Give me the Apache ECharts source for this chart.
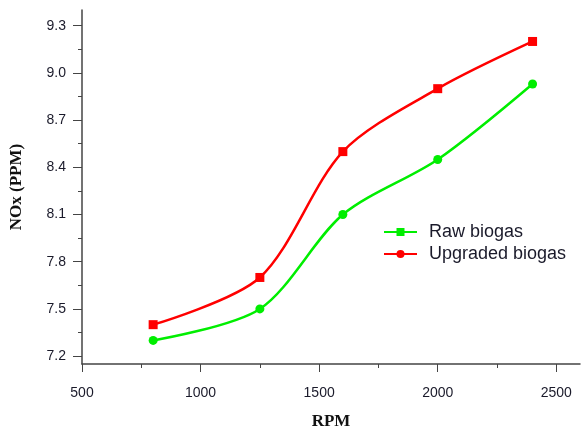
<!DOCTYPE html>
<html>
<head>
<meta charset="utf-8">
<script src="https://cdn.jsdelivr.net/npm/echarts@6/dist/echarts.min.js"></script>
<style>
    html, body { margin: 0; padding: 0; background: #fff; }
    #chart { width: 583px; height: 432px; }
</style>
</head>
<body>
<div id="chart"></div>
<script>
// 数据
var rpm = [800, 1250, 1600, 2000, 2400];
var rawBiogas = [7.3, 7.5, 8.1, 8.45, 8.93];
var upgradedBiogas = [7.4, 7.7, 8.5, 8.9, 9.2];
var yTicks = [7.2, 7.5, 7.8, 8.1, 8.4, 8.7, 9.0, 9.3];
var yMinorTicks = [7.35, 7.65, 7.95, 8.25, 8.55, 8.85, 9.15];
var xTicks = [500, 1000, 1500, 2000, 2500];
var xMinorTicks = [750, 1250, 1750, 2250];

// 组装点数据, 每个点自己的形状 (图例里用系列的形状)
function makePoints (ys, shape) {
    return rpm.map(function (x, i) {
        return { value: [x, ys[i]], symbol: shape };
    });
}

var axisColor = '#444';
var labelStyle = {
    color: '#1a1a2a',
    fontFamily: 'Liberation Sans, Arial',
    fontSize: 14
};
var titleStyle = {
    color: '#111',
    fontFamily: 'Liberation Serif, Times New Roman',
    fontWeight: 'bold',
    fontSize: 17
};

// 次刻度轴: 只画短刻度
function minorAxis (min, max, ticks) {
    return {
        type: 'value', min: min, max: max,
        axisLine: { show: false }, splitLine: { show: false },
        axisLabel: { show: false },
        axisTick: { show: true, customValues: ticks, length: 4, lineStyle: { color: axisColor } }
    };
}

function initChart () {
    var chart = echarts.init(document.getElementById('chart'));
    var xMinor = minorAxis(500, 2600, xMinorTicks);
    xMinor.position = 'bottom';
    var yMinor = minorAxis(7.15, 9.4, yMinorTicks);
    yMinor.position = 'left';
    var option = {
        animation: false,
        backgroundColor: '#fff',
        grid: {
            left: 82,
            right: 3,
            top: 10,
            bottom: 68,
            outerBoundsMode: 'none'
        },
        legend: {
            left: 378,
            top: 218,
            orient: 'vertical',
            itemWidth: 33,
            itemHeight: 10,
            itemGap: 4,
            textStyle: {
                color: '#1a1a2a',
                fontFamily: 'Liberation Sans, Arial',
                fontSize: 18,
                padding: [0, 0, 0, 7]
            },
            data: ['Raw biogas', 'Upgraded biogas']
        },
        xAxis: [{
            type: 'value',
            min: 500,
            max: 2600,
            name: 'RPM',
            nameLocation: 'middle',
            nameGap: 49,
            nameTextStyle: titleStyle,
            splitLine: { show: false },
            axisLine: { lineStyle: { color: axisColor, width: 1.5 } },
            axisTick: {
                customValues: xTicks,
                length: 8,
                lineStyle: { color: axisColor }
            },
            axisLabel: {
                customValues: xTicks,
                margin: 22,
                formatter: function (v) { return String(v); },
                color: labelStyle.color,
                fontFamily: labelStyle.fontFamily,
                fontSize: labelStyle.fontSize
            }
        }, xMinor],
        yAxis: [{
            type: 'value',
            min: 7.15,
            max: 9.4,
            name: 'NOx (PPM)',
            nameLocation: 'middle',
            nameGap: 57,
            nameTextStyle: titleStyle,
            splitLine: { show: false },
            axisLine: { show: true, lineStyle: { color: axisColor, width: 1.5 } },
            axisTick: {
                show: true,
                customValues: yTicks,
                length: 9,
                lineStyle: { color: axisColor }
            },
            axisLabel: {
                customValues: yTicks,
                margin: 16,
                formatter: function (v) { return v.toFixed(1); },
                color: labelStyle.color,
                fontFamily: labelStyle.fontFamily,
                fontSize: labelStyle.fontSize
            }
        }, yMinor],
        series: [
            {
                name: 'Raw biogas',
                type: 'line',
                smooth: 0.3,
                symbol: 'rect',
                symbolSize: 9,
                color: '#00ee00',
                lineStyle: { width: 2.5 },
                data: makePoints(rawBiogas, 'circle')
            },
            {
                name: 'Upgraded biogas',
                type: 'line',
                smooth: 0.3,
                symbol: 'circle',
                symbolSize: 9,
                color: '#ff0000',
                lineStyle: { width: 2.5 },
                data: makePoints(upgradedBiogas, 'rect')
            }
        ]
    };
    chart.setOption(option);
    return chart;
}

var chart = initChart();
window.onresize = function () {
    chart.resize();
};
</script>
</body>
</html>
